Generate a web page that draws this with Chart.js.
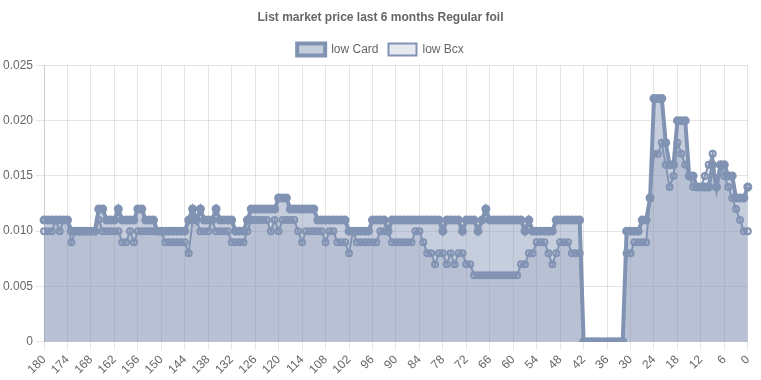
<!DOCTYPE html>
<html>
<head>
<meta charset="utf-8">
<script src="https://cdn.jsdelivr.net/npm/chart.js@4/dist/chart.umd.min.js"></script>
<style>
    body { margin: 0; background: #fff; }
    #wrap { width: 761px; height: 380px; }
</style>
</head>
<body>
<div id="wrap"><canvas id="grafik"></canvas></div>
<script>
// days ago, 180 -> 0
const days = [];
for (let d = 180; d >= 0; d--) days.push(String(d));

const lowCard = [
    0.011,0.011,0.011,0.011,0.011,0.011,0.011,0.010,0.010,0.010,
    0.010,0.010,0.010,0.010,0.012,0.012,0.011,0.011,0.011,0.012,
    0.011,0.011,0.011,0.011,0.012,0.012,0.011,0.011,0.011,0.010,
    0.010,0.010,0.010,0.010,0.010,0.010,0.010,0.011,0.012,0.011,
    0.012,0.011,0.011,0.011,0.012,0.011,0.011,0.011,0.011,0.010,
    0.010,0.010,0.011,0.012,0.012,0.012,0.012,0.012,0.012,0.012,
    0.013,0.013,0.013,0.012,0.012,0.012,0.012,0.012,0.012,0.012,
    0.011,0.011,0.011,0.011,0.011,0.011,0.011,0.011,0.010,0.010,
    0.010,0.010,0.010,0.010,0.011,0.011,0.011,0.011,0.010,0.011,
    0.011,0.011,0.011,0.011,0.011,0.011,0.011,0.011,0.011,0.011,
    0.011,0.011,0.010,0.011,0.011,0.011,0.011,0.010,0.011,0.011,
    0.011,0.010,0.011,0.012,0.011,0.011,0.011,0.011,0.011,0.011,
    0.011,0.011,0.011,0.010,0.011,0.010,0.010,0.010,0.010,0.010,
    0.010,0.011,0.011,0.011,0.011,0.011,0.011,0.011,0,0,
    0,0,0,0,0,0,0,0,0,0.010,
    0.010,0.010,0.010,0.011,0.011,0.013,0.022,0.022,0.022,0.018,
    0.016,0.016,0.020,0.020,0.020,0.015,0.015,0.014,0.014,0.014,
    0.014,0.016,0.014,0.016,0.016,0.015,0.015,0.013,0.013,0.013,
    0.014
];

const lowBcx = [
    0.010,0.010,0.010,0.011,0.010,0.011,0.011,0.009,0.010,0.010,
    0.010,0.010,0.010,0.010,0.011,0.010,0.010,0.010,0.010,0.010,
    0.009,0.009,0.010,0.009,0.010,0.010,0.010,0.010,0.010,0.010,
    0.010,0.009,0.009,0.009,0.009,0.009,0.009,0.008,0.011,0.011,
    0.010,0.010,0.010,0.011,0.010,0.010,0.010,0.010,0.009,0.009,
    0.009,0.009,0.010,0.011,0.011,0.011,0.011,0.011,0.010,0.011,
    0.010,0.011,0.011,0.011,0.011,0.010,0.009,0.010,0.010,0.010,
    0.010,0.010,0.009,0.010,0.010,0.009,0.009,0.009,0.008,0.010,
    0.009,0.009,0.009,0.009,0.009,0.009,0.010,0.010,0.010,0.009,
    0.009,0.009,0.009,0.009,0.009,0.010,0.010,0.009,0.008,0.008,
    0.007,0.008,0.008,0.007,0.008,0.007,0.008,0.008,0.007,0.007,
    0.006,0.006,0.006,0.006,0.006,0.006,0.006,0.006,0.006,0.006,
    0.006,0.006,0.007,0.007,0.008,0.008,0.009,0.009,0.009,0.008,
    0.007,0.008,0.009,0.009,0.009,0.008,0.008,0.008,0,0,
    0,0,0,0,0,0,0,0,0,0.008,
    0.008,0.009,0.009,0.009,0.009,0.013,0.017,0.017,0.018,0.016,
    0.014,0.015,0.018,0.017,0.016,0.015,0.014,0.014,0.014,0.015,
    0.016,0.017,0.014,0.016,0.015,0.014,0.013,0.012,0.011,0.010,
    0.010
];

const labelStep = 6;
const lineColor = "#8193b3";

const ctx = document.getElementById("grafik").getContext("2d");

new Chart(ctx, {
    type: "line",
    data: {
        labels: days,
        datasets: [{
            label: "low Card",
            data: lowCard,
            borderColor: lineColor,
            backgroundColor: "rgba(129,147,179,0.45)",
            borderWidth: 4,
            pointRadius: 3,
            pointBorderWidth: 3,
            pointBorderColor: lineColor,
            pointBackgroundColor: "rgba(129,147,179,0.45)",
            fill: "origin",
            tension: 0
        }, {
            label: "low Bcx",
            data: lowBcx,
            borderColor: lineColor,
            backgroundColor: "rgba(129,147,179,0.2)",
            borderWidth: 2,
            pointRadius: 3,
            pointBorderWidth: 2,
            pointBorderColor: lineColor,
            pointBackgroundColor: "rgba(129,147,179,0.2)",
            fill: "origin",
            tension: 0
        }]
    },
    options: {
        responsive: true,
        maintainAspectRatio: false,
        animation: false,
        plugins: {
            title: {
                display: true,
                text: "List market price last 6 months Regular foil",
                color: "#666",
                font: { size: 12, weight: "bold" },
                padding: { top: 10, bottom: 9 }
            },
            legend: {
                labels: {
                    color: "#666",
                    boxWidth: 28,
                    boxHeight: 12,
                    font: { size: 12 }
                }
            },
            tooltip: { enabled: false }
        },
        scales: {
            x: {
                grid: { color: "rgba(0,0,0,0.1)" },
                ticks: {
                    color: "#666",
                    autoSkip: false,
                    maxRotation: 45,
                    minRotation: 45,
                    font: { size: 12 },
                    callback: function (value, index) {
                        return index % labelStep === 0 ? this.getLabelForValue(value) : null;
                    }
                }
            },
            y: {
                min: 0,
                max: 0.025,
                grid: { color: "rgba(0,0,0,0.1)" },
                ticks: {
                    color: "#666",
                    stepSize: 0.005,
                    font: { size: 12 }
                }
            }
        }
    }
});
</script>
</body>
</html>
